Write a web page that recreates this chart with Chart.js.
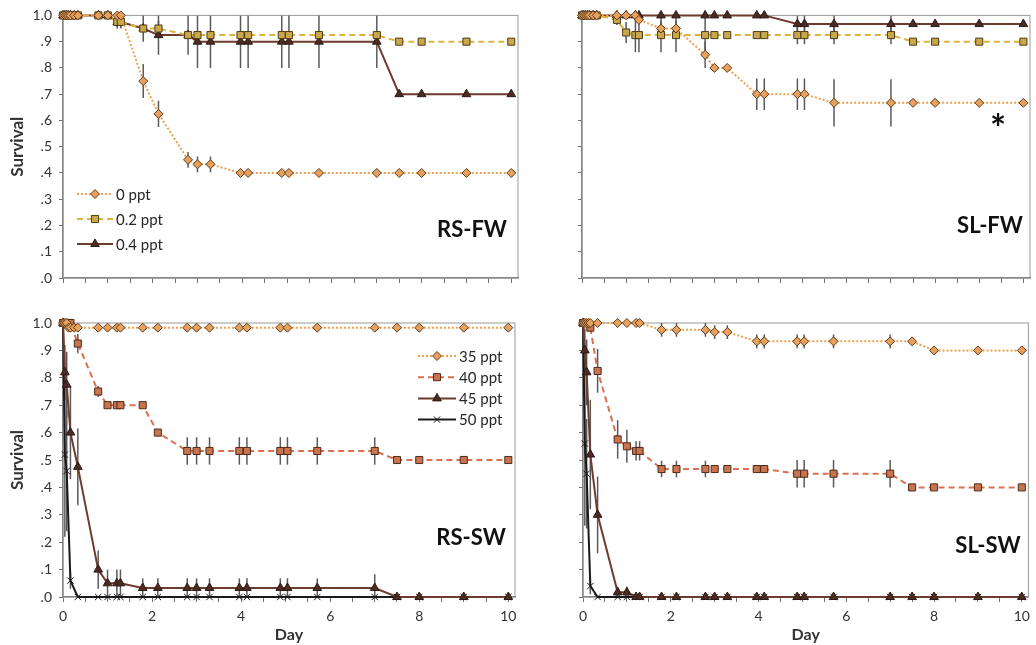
<!DOCTYPE html>
<html>
<head>
<meta charset="utf-8">
<script src="https://cdn.jsdelivr.net/npm/chart.js@4.4.0/dist/chart.umd.min.js"></script>
<style>
  html, body { margin: 0; padding: 0; background: #fff; }
  body { width: 1036px; height: 645px; position: relative; overflow: hidden; }
  canvas { position: absolute; }
</style>
</head>
<body>
<canvas id="rsFw" width="530" height="300" style="left:0;top:0"></canvas>
<canvas id="slFw" width="496" height="300" style="left:540px;top:0"></canvas>
<canvas id="rsSw" width="530" height="345" style="left:0;top:300px"></canvas>
<canvas id="slSw" width="496" height="345" style="left:540px;top:300px"></canvas>
<script>
const _ = null;

// sampling times (days), shared by every series
const days = [0, 0.042, 0.083, 0.125, 0.167, 0.25, 0.333, 0.79, 1.0, 1.21, 1.29, 1.79, 2.13, 2.79, 3.0, 3.29, 3.96, 4.13, 4.88, 5.04, 5.71, 7.0, 7.5, 8.0, 9.0, 10.0];
const dayLabels = [0, 2, 4, 6, 8, 10];
const survivalLabels = ['.0', '.1', '.2', '.3', '.4', '.5', '.6', '.7', '.8', '.9', '1.0'];

// RS-FW
const rsFw0     = [1, 1, 1, 1, 1, 1, 1, 1, 1, 1, 1, .75, .625, .45, .433, .433, .4, .4, .4, .4, .4, .4, .4, .4, .4, .4];
const rsFw0Err  = [_, _, _, _, _, _, _, _, _, _, _, .065, .05, .03, .03, .03, _, _, _, _, _, _, _, _, _, _];
const rsFw02    = [1, 1, 1, 1, 1, 1, 1, 1, 1, .975, .975, .95, .95, .925, .925, .925, .925, .925, .925, .925, .925, .925, .9, .9, .9, .9];
const rsFw02Err = [_, _, _, _, _, _, _, _, _, .02, .02, _, .03, _, _, _, _, _, _, _, _, _, _, _, _, _];
const rsFw04    = [1, 1, 1, 1, 1, 1, 1, 1, 1, .975, .975, .95, .925, .925, .9, .9, .9, .9, .9, .9, .9, .9, .7, .7, .7, .7];
const rsFw04Err = [_, _, _, _, _, _, _, _, _, .025, .025, .05, .075, .075, .1, .1, .1, .1, .1, .1, .1, .1, _, _, _, _];

// SL-FW
const slFw0     = [1, 1, 1, 1, 1, 1, 1, 1, 1, 1, .983, .95, .95, .85, .8, .8, .7, .7, .7, .7, .667, .667, .667, .667, .667, .667];
const slFw0Err  = [_, _, _, _, _, _, _, _, _, _, _, .03, .03, .05, _, _, .06, .06, .06, .06, .09, .09, _, _, _, _];
const slFw02    = [1, 1, 1, 1, 1, 1, 1, .983, .935, .925, .925, .925, .925, .925, .925, .925, .925, .925, .925, .925, .925, .925, .9, .9, .9, .9];
const slFw02Err = [_, _, _, _, _, _, _, .02, .04, .065, .065, .065, .065, .07, _, _, _, _, .035, .035, .035, .035, _, _, _, _];
const slFw04    = [1, 1, 1, 1, 1, 1, 1, 1, 1, 1, 1, 1, 1, 1, 1, 1, 1, 1, .967, .967, .967, .967, .967, .967, .967, .967];
const slFw04Err = [_, _, _, _, _, _, _, _, _, _, _, _, _, _, _, _, _, _, .033, .033, .033, .033, _, _, _, _];

// RS-SW
const rsSw35    = [1, 1, 1, .983, .983, .983, .983, .983, .983, .983, .983, .983, .983, .983, .983, .983, .983, .983, .983, .983, .983, .983, .983, .983, .983, .983];
const rsSw40    = [1, 1, 1, 1, 1, _, .925, .75, .7, .7, .7, .7, .6, .533, .533, .533, .533, .533, .533, .533, .533, .533, .5, .5, .5, .5];
const rsSw40Err = [_, _, _, _, _, _, .035, .02, _, _, _, _, _, .05, .05, .05, .05, .05, .05, .05, .05, .05, _, _, _, _];
const rsSw45    = [1, .82, .775, _, .6, _, .475, .1, .05, .05, .05, .033, .033, .033, .033, .033, .033, .033, .033, .033, .033, .033, 0, 0, 0, 0];
const rsSw45Err = [_, .1, .12, _, .17, _, .14, .07, .05, .05, .05, .035, .035, .035, .035, .035, .035, .035, .035, .035, .035, .05, _, _, _, _];
const rsSw50    = [1, .52, .46, _, .06, _, 0, 0, 0, 0, 0, 0, 0, 0, 0, 0, 0, 0, 0, 0, 0, 0, 0, 0, 0, 0];
const rsSw50Err = [_, .3, .22, _, .03, _, _, _, _, _, _, _, _, _, _, _, _, _, _, _, _, _, _, _, _, _];

// SL-SW
const slSw35    = [1, 1, 1, 1, 1, _, 1, 1, 1, 1, 1, .975, .975, .975, .967, .967, .933, .933, .933, .933, .933, .933, .933, .9, .9, .9];
const slSw35Err = [_, _, _, _, _, _, _, _, _, _, _, .025, .025, .025, .025, .025, .025, .025, .025, .025, .025, .025, _, _, _, _];
const slSw40    = [1, 1, 1, _, .983, _, .825, .575, .55, .533, .533, .467, .467, .467, .467, .467, .467, .467, .45, .45, .45, .45, .4, .4, .4, .4];
const slSw40Err = [_, _, _, _, _, _, .08, .07, .06, .035, .035, .03, .03, .03, _, _, _, _, .05, .05, .05, .05, _, _, _, _];
const slSw45    = [1, .9, .82, _, .52, _, .3, .017, .017, 0, 0, 0, 0, 0, 0, 0, 0, 0, 0, 0, 0, 0, 0, 0, 0, 0];
const slSw45Err = [_, .08, .12, _, .2, _, .14, .02, .02, _, _, _, _, _, _, _, _, _, _, _, _, _, _, _, _, _];
const slSw50    = [1, .56, .45, _, .04, _, 0, 0, 0, 0, 0, 0, 0, 0, 0, 0, 0, 0, 0, 0, 0, 0, 0, 0, 0, 0];
const slSw50Err = [_, .3, .2, _, .03, _, _, _, _, _, _, _, _, _, _, _, _, _, _, _, _, _, _, _, _, _];

Chart.defaults.font.family = 'Lato, "Open Sans", sans-serif';
Chart.defaults.color = '#333';

// marker / line styles
const diamond = { borderColor: '#F0A04B', borderDash: [2, 2], pointStyle: 'rectRot', pointRadius: 4.5, pointBackgroundColor: '#E8A15C', pointBorderColor: '#5C3A1E' };
const goldSquare = { borderColor: '#DDB33F', borderDash: [6, 4], pointStyle: 'rect', pointRadius: 5, pointBackgroundColor: '#C9A84C', pointBorderColor: '#4D3B17' };
const redSquare = { borderColor: '#D9704F', borderDash: [6, 4], pointStyle: 'rect', pointRadius: 5, pointBackgroundColor: '#C8754F', pointBorderColor: '#4E2A1A' };
const brownTri = { borderColor: '#6E3B2C', borderDash: [], pointStyle: 'triangle', pointRadius: 5, pointBackgroundColor: '#4B2C22', pointBorderColor: '#2E1A14' };
const blackCross = { borderColor: '#1A1A1A', borderDash: [], pointStyle: 'crossRot', pointRadius: 4.5, pointBackgroundColor: '#1A1A1A', pointBorderColor: '#1A1A1A' };

function series(label, values, errs, style) {
    return Object.assign({
        label: label,
        data: days.map((d, i) => ({ x: d, y: values[i] })),
        err: errs,
        borderWidth: 2,
        pointBorderWidth: 1,
        pointHoverRadius: 5,
        spanGaps: true,
        clip: false,
        tension: 0
    }, style);
}

// vertical error bars, behind the markers
const errorBars = {
    id: 'errorBars',
    beforeDatasetsDraw(chart) {
        const { ctx, chartArea: a, scales: { x, y } } = chart;
        ctx.save();
        ctx.beginPath();
        ctx.rect(a.left, a.top, a.right - a.left, a.bottom - a.top);
        ctx.clip();
        ctx.strokeStyle = '#5a5a5a';
        ctx.lineWidth = 1.5;
        chart.data.datasets.forEach(ds => {
            if (!ds.err) return;
            ds.err.forEach((e, i) => {
                const v = ds.data[i].y;
                if (e == null || v == null) return;
                const px = x.getPixelForValue(ds.data[i].x);
                ctx.beginPath();
                ctx.moveTo(px, y.getPixelForValue(v + e));
                ctx.lineTo(px, y.getPixelForValue(v - e));
                ctx.stroke();
            });
        });
        ctx.restore();
    }
};

// plot-area box
const frame = {
    id: 'frame',
    beforeDatasetsDraw(chart) {
        const { ctx, chartArea: a } = chart;
        ctx.save();
        ctx.strokeStyle = '#9a9a9a';
        ctx.lineWidth = 1;
        ctx.strokeRect(a.left, a.top, a.right - a.left, a.bottom - a.top);
        ctx.restore();
    }
};

// legend and panel labels drawn inside the plot
const inner = {
    id: 'inner',
    afterDraw(chart, args, opts) {
        const ctx = chart.ctx;
        ctx.save();
        if (opts.legend) {
            const L = opts.legend;
            chart.data.datasets.forEach((ds, i) => {
                const y = L.y + i * L.gap;
                ctx.strokeStyle = ds.borderColor;
                ctx.lineWidth = 2;
                ctx.setLineDash(ds.borderDash || []);
                ctx.beginPath();
                ctx.moveTo(L.x0, y);
                ctx.lineTo(L.x1, y);
                ctx.stroke();
                ctx.setLineDash([]);
                ctx.fillStyle = ds.pointBackgroundColor;
                ctx.strokeStyle = ds.pointBorderColor;
                ctx.lineWidth = 1;
                Chart.helpers.drawPoint(ctx, { pointStyle: ds.pointStyle, radius: ds.pointRadius, rotation: 0, borderWidth: 1 }, (L.x0 + L.x1) / 2, y);
                ctx.fillStyle = '#262626';
                ctx.font = '15px Lato, "Open Sans", sans-serif';
                ctx.textAlign = 'left';
                ctx.textBaseline = 'middle';
                ctx.fillText(ds.label, L.x1 + 3, y + 1);
            });
        }
        (opts.texts || []).forEach(t => {
            ctx.fillStyle = '#111';
            ctx.font = 'bold ' + t.size + 'px Lato, "Open Sans", sans-serif';
            ctx.textAlign = 'center';
            ctx.textBaseline = 'middle';
            ctx.fillText(t.text, t.x, t.y);
        });
        ctx.restore();
    }
};

function panel(id, datasets, o) {
    return new Chart(document.getElementById(id), {
        type: 'line',
        data: { datasets: datasets },
        plugins: [frame, errorBars, inner],
        options: {
            responsive: false,
            animation: false,
            layout: { padding: { top: o.padTop, right: o.padRight, left: 0, bottom: 0 } },
            plugins: {
                legend: { display: false },
                tooltip: { enabled: false },
                inner: { legend: o.legend, texts: o.texts }
            },
            scales: {
                x: {
                    type: 'linear',
                    min: 0,
                    max: 10.15,
                    afterFit: s => { s.height = o.xHeight; },
                    border: { color: '#707070', width: 1.5 },
                    grid: { drawOnChartArea: false, drawTicks: true, tickLength: 5, color: '#707070' },
                    ticks: {
                        stepSize: 0.5,
                        includeBounds: false,
                        autoSkip: false,
                        maxRotation: 0,
                        padding: 6,
                        font: { size: 14 },
                        color: '#333',
                        callback: v => (o.xLabels && dayLabels.includes(v)) ? String(v) : ''
                    },
                    title: { display: o.xLabels, text: 'Day', font: { size: 16, weight: 'bold' }, color: '#333', padding: { top: 0, bottom: 1 } }
                },
                y: {
                    min: 0,
                    max: 1,
                    afterFit: s => { s.width = o.yWidth; },
                    border: { color: '#707070', width: 1.5 },
                    grid: { drawOnChartArea: false, drawTicks: true, tickLength: 4, color: '#707070' },
                    ticks: {
                        stepSize: 0.1,
                        padding: 7,
                        font: { size: 14 },
                        color: '#333',
                        callback: (v, i) => o.yLabels ? survivalLabels[i] : ''
                    },
                    title: { display: o.yLabels, text: 'Survival', font: { size: 17, weight: 'bold' }, color: '#333', padding: { top: 7, bottom: 0 } }
                }
            }
        }
    });
}

// RS-FW
panel('rsFw', [
    series('0 ppt', rsFw0, rsFw0Err, diamond),
    series('0.2 ppt', rsFw02, rsFw02Err, goldSquare),
    series('0.4 ppt', rsFw04, rsFw04Err, brownTri)
], {
    padTop: 13, padRight: 12, yWidth: 63, xHeight: 22, xLabels: false, yLabels: true,
    legend: { x0: 77, x1: 113, y: 194, gap: 25 },
    texts: [{ text: 'RS-FW', x: 472, y: 230, size: 22 }]
});

// SL-FW
panel('slFw', [
    series('0 ppt', slFw0, slFw0Err, diamond),
    series('0.2 ppt', slFw02, slFw02Err, goldSquare),
    series('0.4 ppt', slFw04, slFw04Err, brownTri)
], {
    padTop: 13, padRight: 4, yWidth: 42, xHeight: 22, xLabels: false, yLabels: false,
    texts: [{ text: 'SL-FW', x: 450, y: 226, size: 22 }, { text: '*', x: 458, y: 130, size: 38 }]
});

// RS-SW
panel('rsSw', [
    series('35 ppt', rsSw35, null, diamond),
    series('40 ppt', rsSw40, rsSw40Err, redSquare),
    series('45 ppt', rsSw45, rsSw45Err, brownTri),
    series('50 ppt', rsSw50, rsSw50Err, blackCross)
], {
    padTop: 23, padRight: 15, yWidth: 63, xHeight: 48, xLabels: true, yLabels: true,
    legend: { x0: 418, x1: 456, y: 56, gap: 21.2 },
    texts: [{ text: 'RS-SW', x: 471, y: 238, size: 22 }]
});

// SL-SW
panel('slSw', [
    series('35 ppt', slSw35, slSw35Err, diamond),
    series('40 ppt', slSw40, slSw40Err, redSquare),
    series('45 ppt', slSw45, slSw45Err, brownTri),
    series('50 ppt', slSw50, slSw50Err, blackCross)
], {
    padTop: 23, padRight: 3, yWidth: 43, xHeight: 48, xLabels: true, yLabels: false,
    texts: [{ text: 'SL-SW', x: 448, y: 246, size: 22 }]
});
</script>
</body>
</html>
